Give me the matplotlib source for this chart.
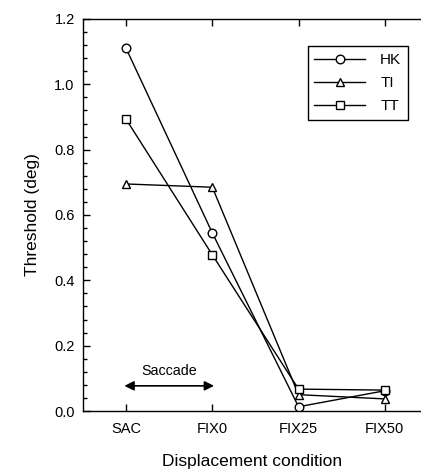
import matplotlib
matplotlib.use("Agg")
import matplotlib.pyplot as plt
from matplotlib.ticker import MultipleLocator

plt.rcParams['font.family'] = ['Liberation Sans', 'DejaVu Sans']

categories = ["SAC", "FIX0", "FIX25", "FIX50"]
hk = [1.11, 0.545, 0.013, 0.062]
ti = [0.695, 0.685, 0.050, 0.037]
tt = [0.893, 0.478, 0.067, 0.064]

fig = plt.figure(figsize=(4.21, 4.69), dpi=100)
ax = fig.add_axes([83/421, 1 - 411/469, (421 - 83)/421 + 0.002, (411 - 19)/469])

x = list(range(len(categories)))
mk = dict(color='black', linewidth=1.0, markerfacecolor='white', markeredgecolor='black', markeredgewidth=1.0)
ax.plot(x, hk, marker='o', markersize=6.2, label='HK', **mk)
ax.plot(x, ti, marker='^', markersize=5.8, label='TI', **mk)
ax.plot(x, tt, marker='s', markersize=5.6, label='TT', **mk)

ax.set_xlim(-0.5, 3.43)
ax.set_ylim(0, 1.2)
ax.set_xticks(x)
ax.set_xticklabels(categories)
ax.yaxis.set_major_locator(MultipleLocator(0.2))
ax.yaxis.set_minor_locator(MultipleLocator(0.04))
ax.yaxis.set_major_formatter(plt.FuncFormatter(lambda v, p: f"{v:.1f}"))
ax.tick_params(axis='both', which='major', direction='in', length=5, width=1, labelsize=10.5)
ax.tick_params(axis='y', which='minor', direction='in', length=3, width=1)
ax.tick_params(axis='x', top=True, pad=8)
ax.tick_params(axis='y', pad=6)
ax.spines['right'].set_visible(False)
for s in ['left', 'bottom', 'top']:
    ax.spines[s].set_linewidth(1.0)

ax.set_xlabel("Displacement condition", fontsize=12.5, labelpad=13)
ax.set_ylabel("Threshold (deg)", fontsize=12.5, labelpad=10)

ax.annotate("", xy=(-0.02, 0.077), xytext=(1.02, 0.077),
            arrowprops=dict(arrowstyle='<|-|>', color='black', lw=1.2,
                            mutation_scale=14, shrinkA=0, shrinkB=0))
ax.text(0.5, 0.122, "Saccade", ha='center', va='center', fontsize=10.3)

leg = ax.legend(loc='upper left', bbox_to_anchor=((307 - 83)/338, 1 - (46 - 19)/392),
                frameon=True, fancybox=False, edgecolor='black', fontsize=11,
                handlelength=3.3, handletextpad=1.0, borderpad=0.45, labelspacing=0.6,
                borderaxespad=0)
leg.get_frame().set_linewidth(1.0)
leg.get_frame().set_alpha(1)

fig.savefig("out.png", dpi=100)
